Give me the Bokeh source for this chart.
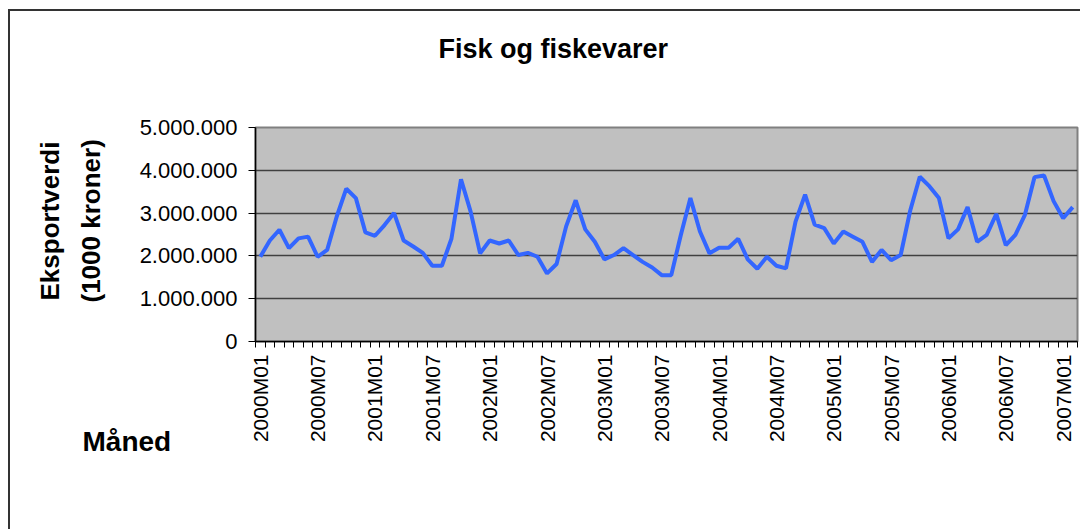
import math
from bokeh.plotting import figure
from bokeh.models import FixedTicker, Title, ColumnDataSource
from bokeh.embed import file_html
from bokeh.resources import INLINE

# ---- data ----
months = [f"{y}M{m:02d}" for y in range(2000, 2008) for m in range(1, 13)][:86]

export_value = [
    1980000, 2360000, 2610000, 2180000, 2410000, 2450000, 1980000, 2140000, 2920000, 3570000,
    3350000, 2550000, 2470000, 2720000, 3000000, 2360000, 2220000, 2070000, 1770000, 1770000,
    2400000, 3790000, 3040000, 2060000, 2360000, 2290000, 2360000, 2020000, 2070000, 1980000,
    1590000, 1810000, 2690000, 3300000, 2620000, 2330000, 1920000, 2020000, 2180000, 2020000,
    1860000, 1730000, 1550000, 1550000, 2490000, 3350000, 2570000, 2060000, 2190000, 2190000,
    2400000, 1920000, 1700000, 1980000, 1770000, 1710000, 2800000, 3430000, 2730000, 2650000,
    2290000, 2570000, 2450000, 2330000, 1860000, 2140000, 1900000, 2020000, 3060000, 3850000,
    3630000, 3350000, 2410000, 2620000, 3140000, 2330000, 2490000, 2980000, 2250000, 2490000,
    2960000, 3840000, 3880000, 3280000, 2880000, 3140000,
]

y_ticks = [0, 1000000, 2000000, 3000000, 4000000, 5000000]
y_tick_labels = ["0", "1.000.000", "2.000.000", "3.000.000", "4.000.000", "5.000.000"]
labelled_months = [m for m in months if m.endswith("M01") or m.endswith("M07")]

title_text = "Fisk og fiskevarer"
y_title_lines = ["Eksportverdi", "(1000 kroner)"]
x_title = "Måned"

FONT = "Liberation Sans"

# ---- figure ----
idx = list(range(len(months)))
src = ColumnDataSource(dict(x=idx, y=export_value, m=months))

p = figure(width=1072, height=520, x_range=(-0.5, len(months) - 0.5), y_range=(0, 5000000),
           output_backend="svg", toolbar_location=None,
           min_border_left=245, min_border_right=5, min_border_top=116, min_border_bottom=190)
p.styles = {"border-top": "2px solid #333333", "border-left": "2px solid #333333",
            "margin-left": "8px", "margin-top": "9px"}

p.background_fill_color = "#C0C0C0"
p.border_fill_color = "white"
p.outline_line_color = "#808080"
p.outline_line_width = 2

p.line("x", "y", source=src, line_color="#3366FF", line_width=4)

# x axis
label_pos = [months.index(m) for m in labelled_months]
p.xaxis.ticker = FixedTicker(ticks=label_pos, minor_ticks=[i - 0.5 for i in range(len(months) + 1)])
p.xaxis.major_label_overrides = {i: months[i] for i in label_pos}
p.xaxis.major_label_orientation = math.pi / 2
p.xaxis.major_tick_out = 0
p.xaxis.major_tick_in = 0
p.xaxis.minor_tick_out = 6
p.xaxis.minor_tick_in = 0
p.xaxis.minor_tick_line_color = "black"
p.xaxis.major_label_standoff = 7
p.xaxis.axis_line_color = "black"
p.xaxis.axis_line_width = 1.5
p.xaxis.major_label_text_font = FONT
p.xaxis.major_label_text_font_size = "21px"
p.xaxis.major_label_text_color = "black"

# y axis
p.yaxis.ticker = FixedTicker(ticks=y_ticks)
p.yaxis.major_label_overrides = dict(zip(y_ticks, y_tick_labels))
p.yaxis.major_tick_out = 7
p.yaxis.major_tick_in = 0
p.yaxis.minor_tick_line_color = None
p.yaxis.major_tick_line_color = "black"
p.yaxis.axis_line_color = "black"
p.yaxis.axis_line_width = 1.5
p.yaxis.major_label_standoff = 11
p.yaxis.major_label_text_font = FONT
p.yaxis.major_label_text_font_size = "22px"
p.yaxis.major_label_text_color = "black"

p.xgrid.visible = False
p.ygrid.grid_line_color = "#404040"
p.ygrid.grid_line_width = 1.5

# y titles (two lines, as left-side titles)
p.add_layout(Title(text=y_title_lines[1], align="left", offset=39, text_font=FONT, text_font_size="26px",
                   text_font_style="bold", text_color="black", standoff=62), "left")
p.add_layout(Title(text=y_title_lines[0], align="left", offset=41, text_font=FONT, text_font_size="26px",
                   text_font_style="bold", text_color="black", standoff=-44), "left")
# spacer between frame and main title
p.add_layout(Title(text=" ", text_font_size="1px", standoff=43), "above")
p.add_layout(Title(text=title_text, align="left", offset=183, text_font=FONT, text_font_size="27px",
                   text_font_style="bold", text_color="black", standoff=36), "above")
p.add_layout(Title(text=x_title, align="left", offset=-173, vertical_align="top", text_font=FONT,
                   text_font_size="28px", text_font_style="bold", text_color="black",
                   standoff=-40), "below")

open("out.html", "w").write(file_html(p, INLINE))
